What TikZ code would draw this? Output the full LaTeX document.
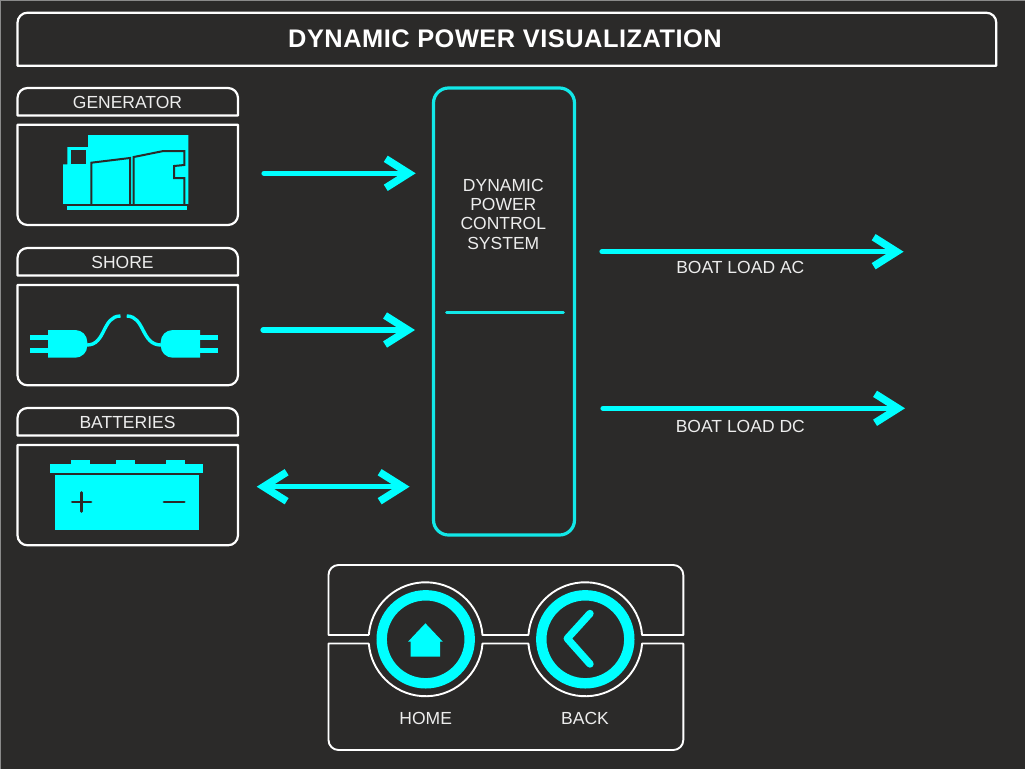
\documentclass[tikz,border=0pt]{standalone}
\usepackage{fontspec}
\setmainfont{Liberation Sans}
\usetikzlibrary{arrows.meta}
\definecolor{bgdark}{HTML}{2B2A29}
\definecolor{neon}{HTML}{00FFFF}
\definecolor{panelcyan}{HTML}{12E8E8}
\definecolor{labelwhite}{HTML}{EDEDED}
\definecolor{edgegrey}{HTML}{8A8A8A}
\tikzset{
  frame/.style={draw=white,line width=2.2pt,line join=round},
  navframe/.style={draw=white,line width=1.9pt,line join=round},
  label/.style={text=labelwhite,font=\fontsize{17.5}{19.4}\selectfont,align=center,inner sep=0pt},
  titletext/.style={text=white,font=\fontsize{25.4}{30}\selectfont\bfseries\addfontfeature{LetterSpace=2},inner sep=0pt},
  icon/.style={fill=neon,draw=none},
  iconline/.style={draw=bgdark,line width=2pt,line join=miter},
  cable/.style={draw=neon,line width=3.4pt,line cap=butt},
  flow/.style={draw=neon,line width=5.2pt,line cap=round,
    arrows={-Straight Barb[length=23pt,width=29pt,line width=7.4pt]}},
  flowboth/.style={draw=neon,line width=5.2pt,
    arrows={Straight Barb[length=23pt,width=29pt,line width=7.4pt]-Straight Barb[length=23pt,width=29pt,line width=7.4pt]}},
  panel/.style={draw=panelcyan,line width=3.2pt,rounded corners=15pt,minimum width=141pt,minimum height=447pt,inner sep=0pt},
  divider/.style={draw=panelcyan,line width=2.8pt,line cap=round},
  ring/.style={draw=neon,line width=10.4pt,circle,minimum size=88pt,inner sep=0pt},
}
\newcommand{\tabframe}[3]{%
  \draw[frame] (17.5,#1) [rounded corners=10pt] -- (17.5,#2) -- (238,#2) [sharp corners] -- (238,#1) -- cycle;
  \draw[frame] (17.5,#3) -- (238,#3) [rounded corners=10pt] -- (238,#3+100.3) -- (17.5,#3+100.3) [sharp corners] -- cycle;
}
\begin{document}
\begin{tikzpicture}[x=1pt,y=-1pt]
\useasboundingbox (0,0) rectangle (1025,769);
\fill[bgdark] (0,0) rectangle (1025,769);
\draw[edgegrey,line width=1pt] (0.3,769) -- (0.3,0.3) -- (1025,0.3);

% title
\draw[frame] (17.5,65.7) [rounded corners=10pt] -- (17.5,12.7) -- (996.3,12.7) [sharp corners] -- (996.3,65.7) -- cycle;
\node[titletext] (title) at (505,39) {DYNAMIC POWER VISUALIZATION};

% source frames
\tabframe{115.5}{88}{124.7}
\tabframe{275.5}{248}{285}
\tabframe{435.5}{408}{445}
\node[label] (gen) at (127.5,102.5) {GENERATOR};
\node[label] (shore) at (122.5,262.5) {SHORE};
\node[label] (batt) at (127.5,422.5) {BATTERIES};

% generator icon
\fill[icon] (88,135) -- (188.3,135) -- (188.3,204) -- (63,204) -- (63,164.3) -- (67.3,164.3) -- (67.3,147) -- (88,147) -- cycle;
\fill[bgdark] (71,149.5) rectangle (86,164);
\fill[icon] (67,205.5) rectangle (186.8,210);
\draw[iconline] (91.3,204) -- (91.3,162.7) -- (130,158) -- (130,204);
\draw[iconline] (133.7,204) -- (133.7,157) -- (163.5,151) -- (184.3,151) -- (184.3,165) -- (174,166) -- (174,178) -- (184.3,178) -- (184.3,204);
\draw[iconline] (63,204.6) -- (188.3,204.6);

% shore icon
\fill[icon] (30,335) rectangle (48,339.5);
\fill[icon] (30,348) rectangle (48,352.5);
\fill[icon] (48,330) [rounded corners=12pt] -- (87.3,330) -- (87.3,357.7) [sharp corners] -- (48,357.7) -- cycle;
\draw[cable] (87,345) .. controls (106,345) and (102,316) .. (120.5,316);
\fill[icon] (200,335) rectangle (217.7,339.5);
\fill[icon] (200,348) rectangle (217.7,352.5);
\fill[icon] (200,330) -- (200,357.7) [rounded corners=12pt] -- (160.7,357.7) -- (160.7,330) [sharp corners] -- cycle;
\draw[cable] (161,345) .. controls (141,345) and (145,316) .. (126.7,316);

% battery icon
\fill[icon] (71,460) rectangle (90,464.5);
\fill[icon] (116,460) rectangle (135,464.5);
\fill[icon] (166,460) rectangle (185,464.5);
\fill[icon] (50,464) rectangle (203.3,472.8);
\fill[icon] (55,475) rectangle (199.3,530);
\draw[bgdark,line width=2.8pt,line cap=round] (72.3,502) -- (91,502) (81.8,492.5) -- (81.8,511.5);
\draw[bgdark,line width=2.8pt,line cap=round] (164,502) -- (184.3,502);

% central panel
\node[panel] (dpcs) at (504,311.5) {};
\node[label] (dpcstext) at (503.3,214.2) {DYNAMIC\\POWER\\CONTROL\\SYSTEM};
\coordinate (divL) at (446.5,312.5);
\coordinate (divR) at (563.5,312.5);
\draw[divider] (divL) -- (divR);

% flows
\coordinate (genOut) at (264,173.3);
\coordinate (genIn) at (415.7,173.3);
\coordinate (shoreOut) at (263,330);
\coordinate (shoreIn) at (415,330);
\coordinate (battOut) at (256.7,486.7);
\coordinate (battIn) at (409.6,486.7);
\coordinate (acOut) at (602,251.7);
\coordinate (acEnd) at (903.6,251.7);
\coordinate (dcOut) at (603,408.3);
\coordinate (dcEnd) at (905,408.3);
\draw[flow] (genOut) -- (genIn);
\draw[flow] (shoreOut) -- (shoreIn);
\draw[flowboth] (battOut) -- (battIn);
\draw[flow] (acOut) -- (acEnd);
\draw[flow] (dcOut) -- (dcEnd);
\node[label] (ac) at (740.3,267.3) {BOAT LOAD AC};
\node[label] (dc) at (740.3,426.7) {BOAT LOAD DC};

% navigation panel
\draw[navframe] (368.9,635) -- (328.5,635) [rounded corners=10pt] -- (328.5,565) -- (683.3,565) [sharp corners] -- (683.3,635) -- (642.1,635)
  arc[start angle=-4.3,end angle=-175.7,radius=57] -- (482.5,635) arc[start angle=-4.3,end angle=-175.7,radius=57];
\draw[navframe] (368.9,643.5) -- (328.5,643.5) [rounded corners=10pt] -- (328.5,750) -- (683.3,750) [sharp corners] -- (683.3,643.5) -- (642.1,643.5)
  arc[start angle=4.3,end angle=175.7,radius=57] -- (482.5,643.5) arc[start angle=4.3,end angle=175.7,radius=57];
\node[ring] (homebtn) at (425.7,639.3) {};
\node[ring] (backbtn) at (585.3,639.3) {};
\fill[icon] (425.4,623.3) -- (442.8,641.7) -- (440,641.7) -- (440,656.7) -- (410.7,656.7) -- (410.7,641.7) -- (408,641.7) -- cycle;
\draw[neon,line width=7.4pt,line cap=round,line join=round] (590,613.5) -- (567.3,638.5) -- (590,664);
\node[label] (home) at (425.7,718.3) {HOME};
\node[label] (back) at (585,718.3) {BACK};
\end{tikzpicture}
\end{document}
